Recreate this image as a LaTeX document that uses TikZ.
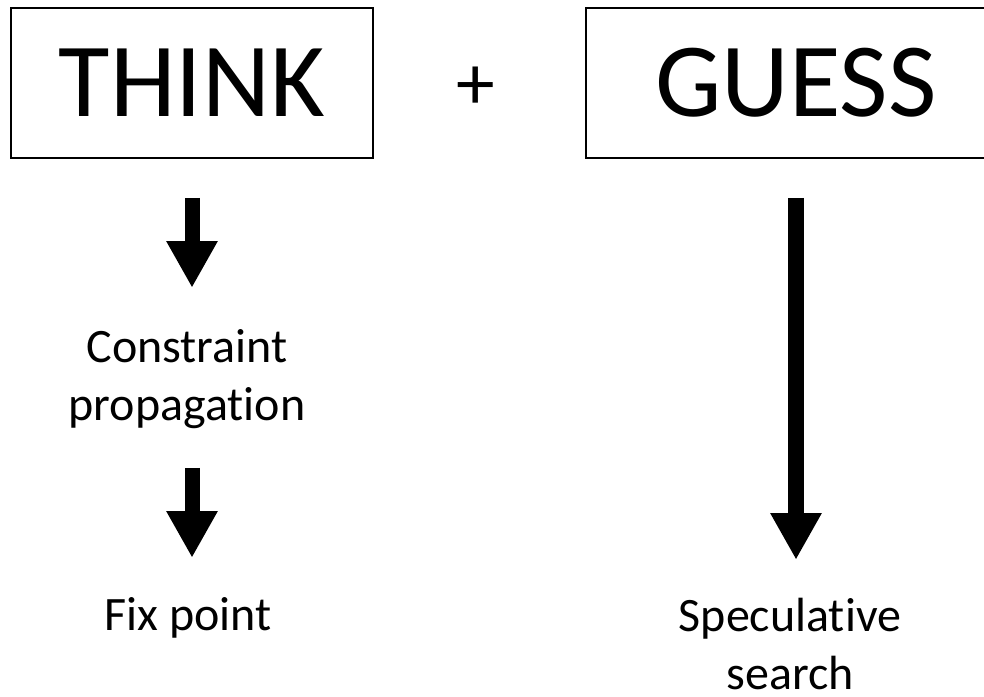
\documentclass[tikz,border=0pt]{standalone}
\usepackage{fontspec}
\setmainfont{Carlito}[Ligatures=CommonOff]
\usetikzlibrary{%
    arrows.meta,%
    positioning,%
    calc%
}

\begin{document}
\begin{tikzpicture}[x=0.75pt,y=-0.75pt]
    % Fix the page to the picture size
    \useasboundingbox (0,0) rectangle (984,696);
    \clip (0,0) rectangle (984,696);
    \tikzset{
        bigword/.style = {font=\fontsize{79}{92}\selectfont},
        smallword/.style = {font=\fontsize{36}{43.5}\selectfont, align=center, inner sep=0pt},
        wordbox/.style = {draw, line width=1.2pt, minimum height=112.5pt},
        fatarrow/.style = {line width=11.25pt, -{Triangle[length=35pt, width=36pt]}}
    }

    % Define the two boxes
    \node[bigword, wordbox, minimum width=271.5pt] (think) at (192,83) {THINK};
    \node[font=\fontsize{58}{70}\selectfont] (plus) at (476,88) {+};
    \node[bigword, wordbox, minimum width=315pt] (guess) at (796,83) {GUESS};
    % Define the labels (base is the last line)
    \node[smallword, anchor=base] (cprop) at (187,420) {Constraint\\propagation};
    \node[smallword, anchor=base] (fixpt) at (188,630) {Fix point};
    \node[smallword, anchor=base] (spec) at (790,689) {Speculative\\search};

    % Draw the arrows
    \draw[fatarrow] (think.south) ++(0,39) -- ++(0,90);
    \draw[fatarrow] (think.south) ++(0,309) -- ++(0,90);
    \draw[fatarrow, line width=12pt] (guess.south) ++(0,39) -- ++(0,362);
\end{tikzpicture}
\end{document}
